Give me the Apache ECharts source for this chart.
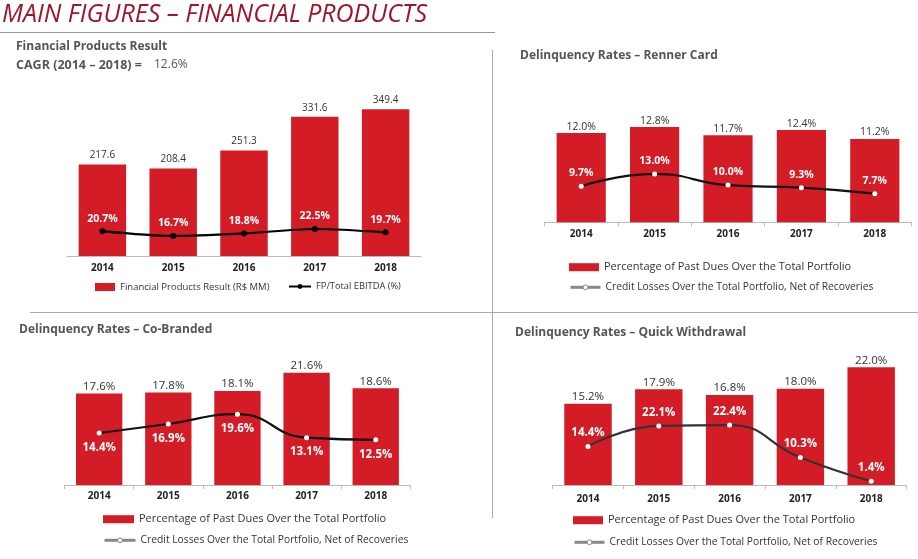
<!DOCTYPE html>
<html><head><meta charset="utf-8">
<script src="https://cdn.jsdelivr.net/npm/echarts@6/dist/echarts.min.js"></script>
<style>html,body{margin:0;padding:0;background:#fff}#c{width:918px;height:559px}</style>
</head><body><div id="c"></div>
<script>
const years = ['2014', '2015', '2016', '2017', '2018'];
const fpResult = [217.6, 208.4, 251.3, 331.6, 349.4];
const fpEbitda = [20.7, 16.7, 18.8, 22.5, 19.7];
const rennerPastDue = [12.0, 12.8, 11.7, 12.4, 11.2];
const rennerLosses = [9.7, 13.0, 10.0, 9.3, 7.7];
const cobPastDue = [17.6, 17.8, 18.1, 21.6, 18.6];
const cobLosses = [14.4, 16.9, 19.6, 13.1, 12.5];
const qwPastDue = [15.2, 17.9, 16.8, 18.0, 22.0];
const qwLosses = [14.4, 22.1, 22.4, 10.3, 1.4];

const FONT = 'Open Sans';
const RED = '#d41c26';
const PD = 'Percentage of Past Dues Over the Total Portfolio';
const CL = 'Credit Losses Over the Total Portfolio, Net of Recoveries';
const FPR = 'Financial Products Result (R$ MM)';
const FPE = 'FP/Total EBITDA (%)';
const pct = p => p.value.toFixed(1) + '%';

const grids = [
  {left: 67, top: 88, width: 354, height: 168},
  {left: 544.5, top: 103.3, width: 367, height: 119},
  {left: 64.6, top: 355, width: 345.7, height: 130},
  {left: 552.6, top: 356.6, width: 354, height: 128.4}
];
const labelMargins = [7, 7, 6, 9];
const showTicks = [false, true, true, true];
const xAxes = grids.map((g, i) => ({
  type: 'category', gridIndex: i, data: years, boundaryGap: true,
  axisLine: {lineStyle: {color: '#bbb', width: 1}},
  axisTick: {show: showTicks[i], length: 4, lineStyle: {color: '#bbb'}},
  axisLabel: {margin: labelMargins[i], color: '#222', fontWeight: 'bold', fontSize: 10, fontFamily: FONT}
}));
const yMax = [[400, 140], [16, 32], [25, 36], [24, 48]];
const yAxes = [];
yMax.forEach((m, i) => {
  yAxes.push({type: 'value', gridIndex: i, min: 0, max: m[0], show: false, splitLine: {show: false}});
  yAxes.push({type: 'value', gridIndex: i, min: 0, max: m[1], show: false, splitLine: {show: false}});
});

function bar(name, data, gi, fmt, fs, dist) {
  return {
    type: 'bar', name, data, xAxisIndex: gi, yAxisIndex: gi * 2,
    barCategoryGap: '33%', itemStyle: {color: RED},
    label: {show: true, position: 'top', distance: dist, formatter: fmt, color: '#333', fontSize: fs, fontFamily: FONT}
  };
}
function line(name, data, gi, opts) {
  return {
    type: 'line', name, data, xAxisIndex: gi, yAxisIndex: gi * 2 + 1,
    smooth: opts.smooth, symbol: 'circle', symbolSize: opts.symbolSize,
    itemStyle: {color: opts.symbolColor},
    lineStyle: {color: opts.color, width: 2.2},
    z: 5,
    label: {show: true, position: opts.pos, distance: opts.dist, formatter: pct, color: '#fff', fontWeight: 'bold', fontSize: opts.fs, fontFamily: FONT}
  };
}

const series = [
  bar(FPR, fpResult, 0, p => p.value.toFixed(1), 10, 4),
  line(FPE, fpEbitda, 0, {smooth: 0.3, symbolSize: 6, symbolColor: '#000', color: '#000', pos: 'top', dist: 4, fs: 10.5}),
  bar(PD, rennerPastDue, 1, pct, 10.5, 1),
  line(CL, rennerLosses, 1, {smooth: 0.5, symbolSize: 5, symbolColor: '#fff', color: '#111', pos: 'top', dist: 5, fs: 10.5}),
  bar(PD, cobPastDue, 2, pct, 11.5, 1),
  line(CL, cobLosses, 2, {smooth: 0.5, symbolSize: 5, symbolColor: '#fff', color: '#111', pos: 'bottom', dist: 6, fs: 11.5}),
  bar(PD, qwPastDue, 3, pct, 11.5, 1),
  line(CL, qwLosses, 3, {smooth: 0.5, symbolSize: 5, symbolColor: '#fff', color: '#333', pos: 'top', dist: 5, fs: 11.5})
];

const legTxt = {color: '#333', fontSize: 10, fontFamily: FONT};
function leg(name, left, cy, w, h, lineLegend, fs) {
  const d = {name};
  if (lineLegend) {
    d.itemStyle = {color: '#fff', borderColor: '#888', borderWidth: 1};
    d.lineStyle = {color: '#888', width: 3};
  } else {
    d.icon = 'rect';
  }
  return {
    left, top: cy - 7, orient: 'horizontal', itemWidth: w, itemHeight: h, itemGap: 0,
    padding: 0, selectedMode: false, data: [d],
    textStyle: Object.assign({}, legTxt, {fontSize: fs})
  };
}
const legends = [
  {left: 95, top: 282, itemWidth: 20, itemHeight: 8, padding: 0, selectedMode: false, data: [{name: FPR, icon: 'rect'}], textStyle: Object.assign({}, legTxt, {fontSize: 9.5})},
  {left: 288, top: 282, itemWidth: 22, itemHeight: 6, padding: 0, selectedMode: false, data: [{name: FPE}], textStyle: Object.assign({}, legTxt, {fontSize: 9.3})},
  leg(PD, 569, 268.7, 30, 8, false, 11),
  leg(CL, 569, 289.3, 30, 6, true, 10.3),
  leg(PD, 103, 520.7, 31, 8, false, 11),
  leg(CL, 103, 542.3, 31, 6, true, 10.3),
  leg(PD, 573, 521.7, 30, 8, false, 11),
  leg(CL, 573, 544.3, 30, 6, true, 10.3)
];

function txt(text, x, y, size, weight, fill, extra) {
  return {type: 'text', x, y, silent: true, style: Object.assign({
    text, font: (weight || 'normal') + ' ' + size + 'px "' + FONT + '"', fill: fill || '#555', verticalAlign: 'middle'
  }, extra || {})};
}
const graphics = [
  {type: 'text', x: 2, y: 15, silent: true, style: {text: 'MAIN FIGURES – FINANCIAL PRODUCTS', font: 'italic 25px "' + FONT + '"', fill: '#a0142a', verticalAlign: 'middle'}},
  {type: 'line', silent: true, shape: {x1: 0, y1: 32.5, x2: 495, y2: 32.5}, style: {stroke: '#999', lineWidth: 1}},
  {type: 'line', silent: true, shape: {x1: 492.5, y1: 50, x2: 492.5, y2: 518}, style: {stroke: '#aaa', lineWidth: 1}},
  {type: 'line', silent: true, shape: {x1: 30, y1: 312.5, x2: 918, y2: 312.5}, style: {stroke: '#aaa', lineWidth: 1}},
  txt('Financial Products Result', 16, 47, 12, 'bold'),
  txt('CAGR (2014 – 2018) =', 16, 65, 12.5, 'bold'),
  txt('12.6%', 154, 65, 12, 'normal'),
  txt('Delinquency Rates – Renner Card', 520, 56, 12, 'bold'),
  txt('Delinquency Rates – Co-Branded', 19, 330, 12, 'bold'),
  txt('Delinquency Rates – Quick Withdrawal', 515, 332.7, 12, 'bold')
];

const chart = echarts.init(document.getElementById('c'), null, {renderer: 'canvas'});
chart.setOption({
  animation: false,
  backgroundColor: '#fff',
  grid: grids,
  xAxis: xAxes,
  yAxis: yAxes,
  legend: legends,
  series,
  graphic: graphics
});
</script></body></html>
